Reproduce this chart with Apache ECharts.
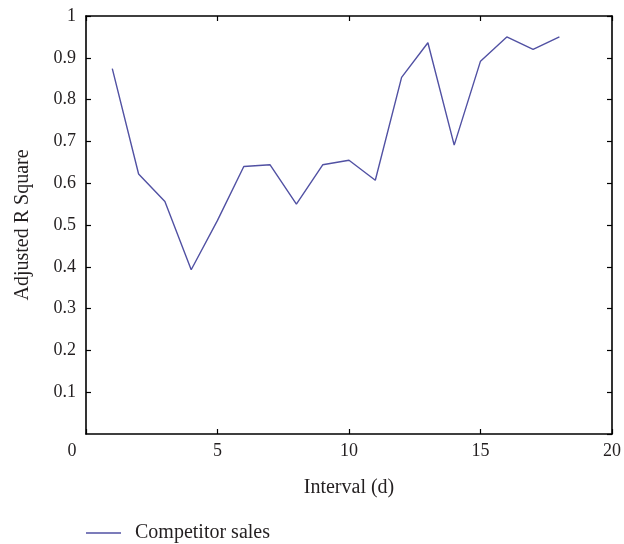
<!DOCTYPE html>
<html>
<head>
<meta charset="utf-8">
<script src="https://cdn.jsdelivr.net/npm/echarts@6/dist/echarts.min.js"></script>
<style>
    html, body { margin: 0; padding: 0; background: #fff; }
    #chart { width: 624px; height: 544px; }
</style>
</head>
<body>
<div id="chart"></div>
<script>
// 数据
var intervals = [1, 2, 3, 4, 5, 6, 7, 8, 9, 10, 11, 12, 13, 14, 15, 16, 17, 18];
var competitorSales = [0.874, 0.622, 0.556, 0.393, 0.511, 0.640, 0.644, 0.550, 0.644, 0.655,
    0.607, 0.853, 0.936, 0.691, 0.892, 0.950, 0.920, 0.950];
var seriesName = 'Competitor sales';

var fontFam = '"Liberation Serif", "DejaVu Serif", serif';
var txtColor = '#231f20';
var lineColor = '#5151a3';

function pairs(xs, ys) {
    var arr = [];
    for (var i = 0; i < xs.length; i++) {
        arr.push([xs[i], ys[i]]);
    }
    return arr;
}

var axisLineStyle = {color: '#000', width: 1.6};
var tickStyle = {inside: true, length: 5, lineStyle: {color: '#000', width: 1.2}};

var chart = echarts.init(document.getElementById('chart'));
chart.setOption({
    animation: false,
    backgroundColor: '#fff',
    textStyle: {fontFamily: fontFam},
    grid: {left: 86, right: 9, top: 16, bottom: 110},
    legend: {
        left: 81, top: 518,
        data: [{name: seriesName, icon: 'rect'}],
        itemWidth: 35, itemHeight: 1.5, itemGap: 15,
        textStyle: {fontFamily: fontFam, fontSize: 20, color: txtColor, padding: [0, 0, 0, 9]}
    },
    xAxis: [{
        type: 'value', min: 0, max: 20, interval: 5,
        name: 'Interval (d)', nameLocation: 'middle', nameGap: 44,
        nameTextStyle: {fontFamily: fontFam, fontSize: 20, color: txtColor},
        axisLine: {onZero: false, lineStyle: axisLineStyle},
        axisTick: tickStyle,
        axisLabel: {
            fontFamily: fontFam, fontSize: 18, color: txtColor, margin: 8,
            formatter: function (v) { return v === 0 ? '{z|0}' : String(v); },
            rich: {z: {fontFamily: fontFam, fontSize: 18, color: txtColor, padding: [0, 28, 0, 0]}}
        },
        splitLine: {show: false}
    }, {
        type: 'value', min: 0, max: 20, interval: 5, position: 'top',
        axisLine: {onZero: false, lineStyle: axisLineStyle},
        axisTick: tickStyle,
        axisLabel: {show: false},
        splitLine: {show: false}
    }],
    yAxis: [{
        type: 'value', min: 0, max: 1, interval: 0.1,
        name: 'Adjusted R Square', nameLocation: 'middle', nameGap: 53, nameRotate: 90,
        nameTextStyle: {fontFamily: fontFam, fontSize: 20, color: txtColor},
        axisLine: {onZero: false, lineStyle: axisLineStyle},
        axisTick: tickStyle,
        axisLabel: {
            fontFamily: fontFam, fontSize: 18, color: txtColor, margin: 10, showMinLabel: false,
            formatter: function (v) { return String(Math.round(v * 10) / 10); }
        },
        splitLine: {show: false}
    }, {
        type: 'value', min: 0, max: 1, interval: 0.1, position: 'right',
        axisLine: {onZero: false, lineStyle: axisLineStyle},
        axisTick: tickStyle,
        axisLabel: {show: false},
        splitLine: {show: false}
    }],
    series: [{
        name: seriesName,
        type: 'line',
        data: pairs(intervals, competitorSales),
        symbol: 'none',
        itemStyle: {color: lineColor},
        lineStyle: {color: lineColor, width: 1.4}
    }]
});
</script>
</body>
</html>
